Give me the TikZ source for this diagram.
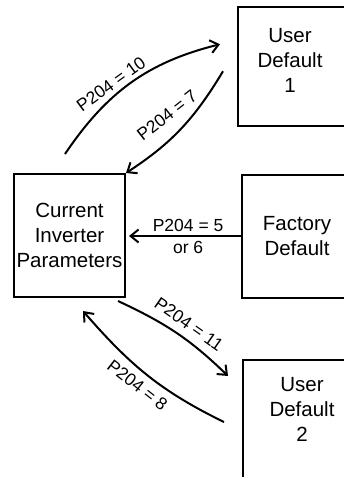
\documentclass[tikz,border=0pt]{standalone}
\usepackage{fontspec}
\setmainfont{Liberation Sans}
\usetikzlibrary{arrows.meta,calc}
\begin{document}
\begin{tikzpicture}[x=1pt,y=-1pt,
  box/.style={draw,line width=2pt,inner sep=0pt},
  boxtext/.style={align=center,font=\fontsize{20.5}{25}\selectfont,inner sep=0pt},
  lbl/.style={font=\fontsize{17.5}{22}\selectfont,inner sep=0pt,align=center},
  arr/.style={line width=2pt,-{Straight Barb[length=8pt,width=13pt]}}]
\useasboundingbox (0,0) rectangle (344,477);
% boxes
\node[box,minimum width=122pt,minimum height=119.5pt] (ud1) at (299,66.25) {};
\node[boxtext] (ud1t) at (290,60) {User\\Default\\1};
\node[box,boxtext,minimum width=111pt,minimum height=123pt] (cur) at (69.5,235.5) {Current\\Inverter\\Parameters};
\node[box,boxtext,minimum width=110pt,minimum height=123pt] (fd) at (297,236) {Factory\\Default};
\node[box,minimum width=120pt,minimum height=140pt] (ud2) at (303,430) {};
\node[boxtext] (ud2t) at (302,409) {User\\Default\\2};
% connectors
\draw[arr] ([shift={(-4.5,-19)}]cur.north) .. controls +(41.7,-61.8) and +(-72.3,18) .. ([shift={(-17,-22)}]ud1.west);
\draw[arr] ([shift={(-14,5)}]ud1.west) .. controls +(-28.3,47.1) and +(46.1,-30) .. (cur.north east);
\draw[arr,shorten >=3pt] (fd.west) -- (fd.west -| cur.east) node[lbl,pos=0.46] (l3) {P204 = 5\\or 6};
\draw[arr] ([shift={(-8,3)}]cur.south east) .. controls +(48,22.4) and +(-38,-36.8) .. ([shift={(-14,17)}]ud2.north west);
\draw[arr] ([shift={(-18,63)}]ud2.north west) .. controls +(-63.8,-31.1) and +(46.6,53.6) .. ([shift={(13.5,13)}]cur.south);
% labels
\node[lbl,rotate=36] (l1) at (111,84) {P204 = 10};
\node[lbl,rotate=38] (l2) at (167,115) {P204 = 7};
\node[lbl,rotate=-35] (l4) at (189,324) {P204 = 11};
\node[lbl,rotate=-38] (l5) at (137.5,385) {P204 = 8};
\end{tikzpicture}
\end{document}
